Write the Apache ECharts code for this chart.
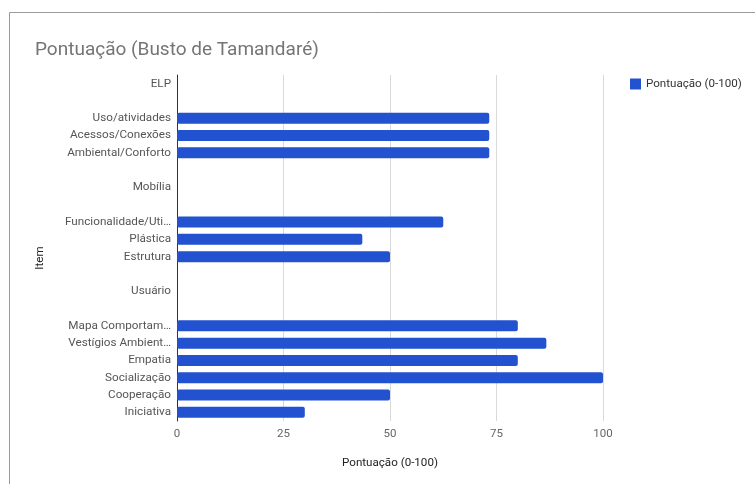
<!DOCTYPE html>
<html>
<head>
<meta charset="utf-8">
<script src="https://cdn.jsdelivr.net/npm/echarts@6/dist/echarts.min.js"></script>
<style>
html,body{margin:0;padding:0;background:#fff;}
#chart{width:755px;height:484px;}
</style>
</head>
<body>
<div id="chart"></div>
<script>
const titleText = 'Pontuação (Busto de Tamandaré)';
const seriesName = 'Pontuação (0-100)';
const categories = ['ELP',' ','Uso/atividades','Acessos/Conexões','Ambiental/Conforto','  ','Mobília','   ','Funcionalidade/Uti…','Plástica','Estrutura','    ','Usuário','     ','Mapa Comportam…','Vestígios Ambient…','Empatia','Socialização','Cooperação','Iniciativa'];
const values = [null,null,73.3,73.3,73.3,null,null,null,62.5,43.5,50,null,null,null,80,86.7,80,100,50,30];
const xTicks = [0,25,50,75,100];

const chart = echarts.init(document.getElementById('chart'), null, {renderer:'canvas'});
const font = 'Roboto, "Liberation Sans", Arial, sans-serif';
chart.setOption({
  animation:false,
  textStyle:{fontFamily:font},
  graphic:[{
    type:'rect', shape:{x:9.5,y:12.5,width:800,height:600},
    style:{fill:'none',stroke:'#9a9a9a',lineWidth:1}, silent:true
  }],
  title:{
    text:titleText, left:30, top:36,
    textStyle:{fontFamily:font,fontSize:19,fontWeight:'normal',color:'#757575'}
  },
  legend:{
    data:[seriesName], left:625, top:73, icon:'rect', itemWidth:11, itemHeight:11, itemGap:5,
    textStyle:{fontFamily:font,fontSize:11.6,color:'#333'}
  },
  grid:{left:177, right:152, top:75, bottom:63, containLabel:false},
  xAxis:{
    type:'value', min:xTicks[0], max:xTicks[xTicks.length-1], interval:25,
    name:seriesName, nameLocation:'middle', nameGap:36,
    nameTextStyle:{fontFamily:font,fontSize:11.6,color:'#222'},
    axisLine:{show:false}, axisTick:{show:false},
    axisLabel:{fontFamily:font,fontSize:11.5,color:'#666',margin:7},
    splitLine:{lineStyle:{color:'#d9d9d9',width:1}}
  },
  yAxis:{
    type:'category', data:categories, inverse:true,
    name:'Item', nameLocation:'middle', nameGap:131,
    nameTextStyle:{fontFamily:font,fontSize:11.6,color:'#222',padding:[0,20,0,0]},
    axisLine:{show:true,lineStyle:{color:'#333',width:1}},
    axisTick:{show:false},
    axisLabel:{fontFamily:font,fontSize:11.7,color:'#555',margin:6,interval:0}
  },
  series:[{
    type:'bar', name:seriesName, data:values, barWidth:11,
    itemStyle:{color:'#2352d1',borderRadius:2}
  }]
});
</script>
</body>
</html>
